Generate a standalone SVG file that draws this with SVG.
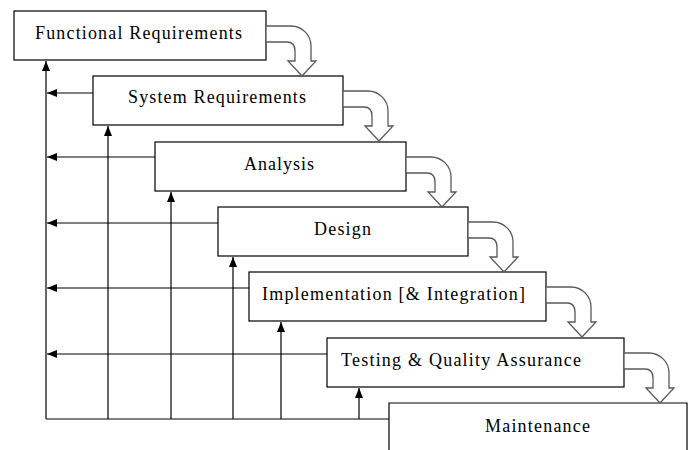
<svg xmlns="http://www.w3.org/2000/svg" xmlns:xlink="http://www.w3.org/1999/xlink" width="693" height="450" viewBox="0 0 693 450">
<style>
.box{fill:#fff;stroke:#000;stroke-width:1.2}
.lbl{font-family:"Liberation Serif","Times New Roman",serif;font-size:18px;fill:#000}
.ln{fill:none;stroke:#000;stroke-width:1.2}
.curl{fill:#fff;stroke:#595959;stroke-width:1.3}
</style>
<defs>
<marker id="ah" markerUnits="userSpaceOnUse" markerWidth="10" markerHeight="8" refX="10" refY="4" orient="auto">
<path d="M0,0 L10,4 L0,8 Z" fill="#000"/>
</marker>
<path id="curlShape" d="M0,0 H25 C36,0 45,9 45,20 V35 H50 L36,50 L22,35 H29 V25 C29,19 26,16 21,16 H0 Z"/>
</defs>
<rect width="693" height="450" fill="#fff"/>
<g id="connectors">
<path class="ln" d="M46,419 H389"/>
<path class="ln" d="M46,419 V61" marker-end="url(#ah)"/>
<path class="ln" d="M108,419 V126" marker-end="url(#ah)"/>
<path class="ln" d="M171,419 V192" marker-end="url(#ah)"/>
<path class="ln" d="M233,419 V257" marker-end="url(#ah)"/>
<path class="ln" d="M281,419 V322" marker-end="url(#ah)"/>
<path class="ln" d="M359,419 V388" marker-end="url(#ah)"/>
<path class="ln" d="M93,93 H47" marker-end="url(#ah)"/>
<path class="ln" d="M155,157 H47" marker-end="url(#ah)"/>
<path class="ln" d="M218,223 H47" marker-end="url(#ah)"/>
<path class="ln" d="M249,288 H47" marker-end="url(#ah)"/>
<path class="ln" d="M327,354 H47" marker-end="url(#ah)"/>
</g>
<g id="functional">
<rect class="box" x="14" y="11" width="252" height="49"/>
<text class="lbl" x="35" y="39" textLength="207">Functional Requirements</text>
</g>
<g id="system">
<rect class="box" x="93" y="76" width="250" height="49"/>
<text class="lbl" x="128" y="103" textLength="178">System Requirements</text>
</g>
<g id="analysis">
<rect class="box" x="155" y="142" width="251" height="49"/>
<text class="lbl" x="244" y="170" textLength="70">Analysis</text>
</g>
<g id="design">
<rect class="box" x="218" y="207" width="250" height="49"/>
<text class="lbl" x="314" y="235" textLength="57">Design</text>
</g>
<g id="implementation">
<rect class="box" x="249" y="272" width="297" height="49"/>
<text class="lbl" x="262" y="300" textLength="263">Implementation [&amp; Integration]</text>
</g>
<g id="testing">
<rect class="box" x="327" y="338" width="297" height="49"/>
<text class="lbl" x="341" y="366" textLength="240">Testing &amp; Quality Assurance</text>
</g>
<g id="maintenance">
<path class="box" d="M389,452 V403 H687 V452"/>
<text class="lbl" x="485" y="432" textLength="105">Maintenance</text>
</g>
<g id="flow-arrows">
<use class="curl" xlink:href="#curlShape" x="266" y="26"/>
<use class="curl" xlink:href="#curlShape" x="343" y="91"/>
<use class="curl" xlink:href="#curlShape" x="406" y="157"/>
<use class="curl" xlink:href="#curlShape" x="468" y="222"/>
<use class="curl" xlink:href="#curlShape" x="546" y="287"/>
<use class="curl" xlink:href="#curlShape" x="624" y="353"/>
</g>
</svg>
